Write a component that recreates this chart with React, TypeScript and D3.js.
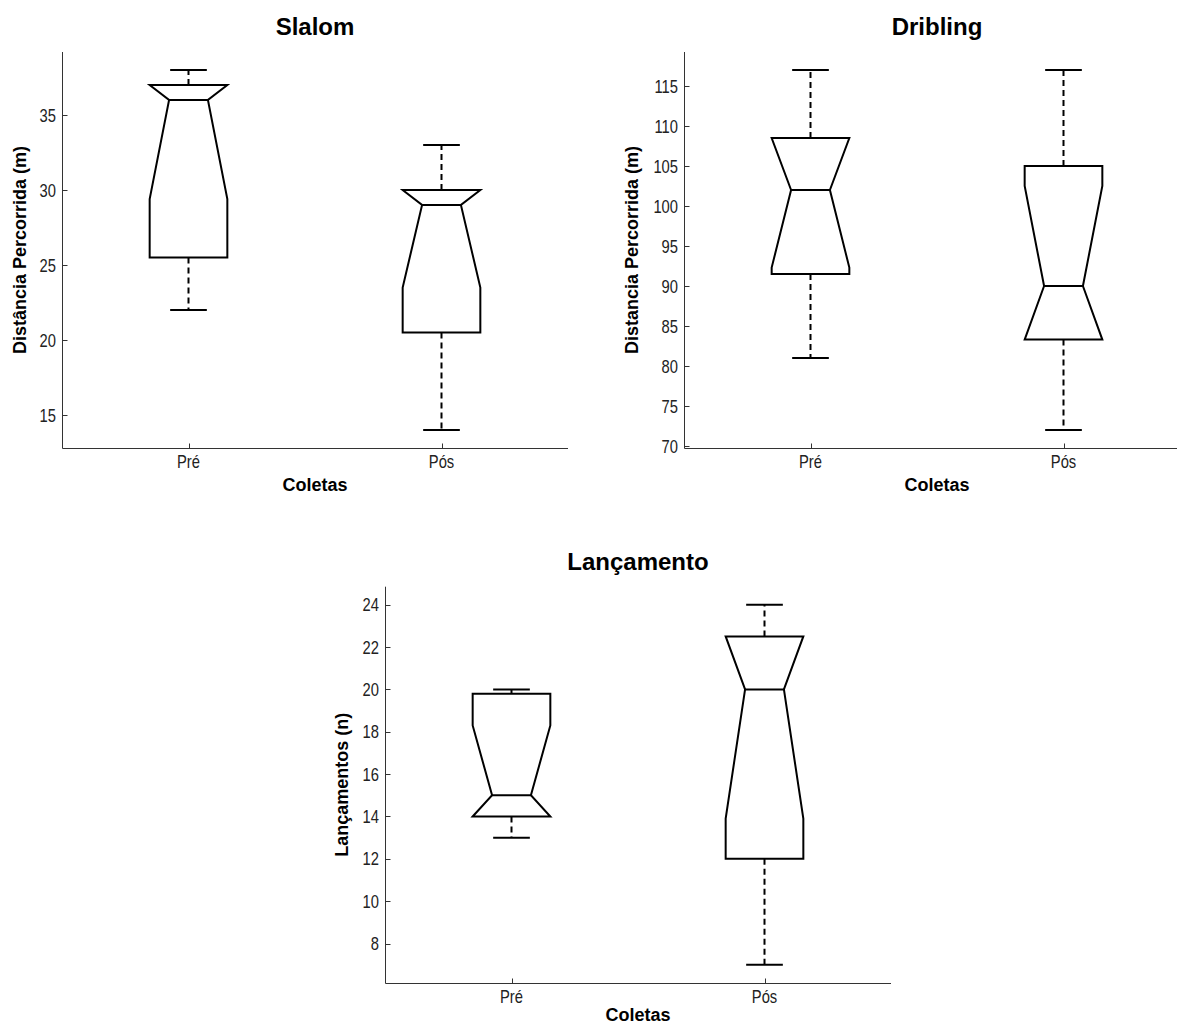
import React from "react";
import * as d3 from "d3";

const categories = ["Pré", "Pós"];

// Slalom
const slalomWhiskerLow = [22, 14];
const slalomQ1 = [25.5, 20.5];
const slalomMedian = [36, 29];
const slalomQ3 = [37, 30];
const slalomWhiskerHigh = [38, 33];
const slalomNotchLow = [29.4, 23.5];
const slalomNotchHigh = [42.6, 34.5];
const slalomTicks = [15, 20, 25, 30, 35];

// Dribling
const driblingWhiskerLow = [81, 72];
const driblingQ1 = [91.5, 83.3];
const driblingMedian = [102, 90];
const driblingQ3 = [108.5, 105];
const driblingWhiskerHigh = [117, 117];
const driblingNotchLow = [92.3, 77.5];
const driblingNotchHigh = [111.8, 102.5];
const driblingTicks = [70, 75, 80, 85, 90, 95, 100, 105, 110, 115];

// Lançamento
const lancWhiskerLow = [13, 7];
const lancQ1 = [14, 12];
const lancMedian = [15, 20];
const lancQ3 = [19.8, 22.5];
const lancWhiskerHigh = [20, 24];
const lancNotchLow = [11.7, 13.9];
const lancNotchHigh = [18.3, 26.1];
const lancTicks = [8, 10, 12, 14, 16, 18, 20, 22, 24];

const AX_W = 506;
const AX_H = 396;
const TICK_FONT = "'Liberation Sans', Arial, Helvetica, sans-serif";
const BOLD_FONT = "'Liberation Sans', Arial, Helvetica, sans-serif";
const NARROW = 0.82;

type PanelProps = {
  x0: number;
  y0: number;
  title: string;
  ylabel: string;
  ylabelX: number;
  xlabelOffset: number;
  ticks: number[];
  wlo: number[];
  q1: number[];
  med: number[];
  q3: number[];
  whi: number[];
  nlo: number[];
  nhi: number[];
};

function Panel(p: PanelProps) {
  const lo = d3.min(p.wlo) as number;
  const hi = d3.max(p.whi) as number;
  const pad = (hi - lo) * 0.05;
  const y = d3.scaleLinear().domain([lo - pad, hi + pad]).range([p.y0 + AX_H, p.y0]);
  const x = d3.scaleLinear().domain([0.5, 2.5]).range([p.x0, p.x0 + AX_W]);
  const unit = x(2) - x(1);
  const bw = 0.307 * unit;
  const cw = 0.145 * unit;
  const bottom = p.y0 + AX_H;
  const ax = Math.round(p.x0) + 0.5;
  const ay = Math.round(bottom) + 0.5;
  const stroke = 2;

  return (
    <g>
      <text
        x={p.x0 + AX_W / 2}
        y={p.y0 - 17}
        textAnchor="middle"
        fontFamily={BOLD_FONT}
        fontWeight="bold"
        fontSize={24}
        fill="#000"
      >
        {p.title}
      </text>
      <text
        transform={`translate(${p.ylabelX},${p.y0 + AX_H / 2}) rotate(-90)`}
        textAnchor="middle"
        fontFamily={BOLD_FONT}
        fontWeight="bold"
        fontSize={18}
        fill="#000"
      >
        {p.ylabel}
      </text>
      <text
        x={p.x0 + AX_W / 2}
        y={bottom + p.xlabelOffset}
        textAnchor="middle"
        fontFamily={BOLD_FONT}
        fontWeight="bold"
        fontSize={18}
        fill="#000"
      >
        Coletas
      </text>
      {/* axes */}
      <line x1={ax} x2={ax} y1={p.y0} y2={ay} stroke="#333" strokeWidth={1} />
      <line x1={ax} x2={p.x0 + AX_W} y1={ay} y2={ay} stroke="#333" strokeWidth={1} />
      {p.ticks.map((t) => {
        const ty = Math.round(y(t)) + 0.5;
        return (
          <g key={t}>
            <line x1={ax} x2={ax + 5} y1={ty} y2={ty} stroke="#333" strokeWidth={1} />
            <text
              transform={`translate(${p.x0 - 6},${y(t) + 6.5}) scale(${NARROW},1)`}
              textAnchor="end"
              fontFamily={TICK_FONT}
              fontSize={18}
              fill="#222"
            >
              {t}
            </text>
          </g>
        );
      })}
      {categories.map((c, i) => {
        const cx = Math.round(x(i + 1)) + 0.5;
        return (
          <g key={c}>
            <line x1={cx} x2={cx} y1={ay} y2={ay - 5} stroke="#333" strokeWidth={1} />
            <text
              transform={`translate(${x(i + 1)},${bottom + 20}) scale(${NARROW},1)`}
              textAnchor="middle"
              fontFamily={TICK_FONT}
              fontSize={18}
              fill="#222"
            >
              {c}
            </text>
          </g>
        );
      })}
      {/* boxes */}
      {categories.map((c, i) => {
        const cx = x(i + 1);
        const L = cx - bw / 2;
        const R = cx + bw / 2;
        const nl = cx - bw / 4;
        const nr = cx + bw / 4;
        const nLo = Math.max(p.nlo[i], p.q1[i]);
        const nHi = Math.min(p.nhi[i], p.q3[i]);
        const pts: [number, number][] = [
          [L, y(p.q1[i])],
          [L, y(nLo)],
          [nl, y(p.med[i])],
          [L, y(nHi)],
          [L, y(p.q3[i])],
          [R, y(p.q3[i])],
          [R, y(nHi)],
          [nr, y(p.med[i])],
          [R, y(nLo)],
          [R, y(p.q1[i])],
        ];
        const line = d3.line();
        const d = line(pts) + "Z";
        return (
          <g key={"b" + c}>
            <line x1={cx} x2={cx} y1={y(p.q3[i])} y2={y(p.whi[i])} stroke="#000" strokeWidth={stroke} strokeDasharray="6,4" />
            <line x1={cx} x2={cx} y1={y(p.q1[i])} y2={y(p.wlo[i])} stroke="#000" strokeWidth={stroke} strokeDasharray="6,4" />
            <line x1={cx - cw / 2} x2={cx + cw / 2} y1={y(p.whi[i])} y2={y(p.whi[i])} stroke="#000" strokeWidth={stroke} />
            <line x1={cx - cw / 2} x2={cx + cw / 2} y1={y(p.wlo[i])} y2={y(p.wlo[i])} stroke="#000" strokeWidth={stroke} />
            <path d={d} fill="#fff" stroke="#000" strokeWidth={stroke} strokeLinejoin="miter" />
            <line x1={nl} x2={nr} y1={y(p.med[i])} y2={y(p.med[i])} stroke="#000" strokeWidth={stroke} />
          </g>
        );
      })}
    </g>
  );
}

export default function App() {
  return (
    <svg
      width={1177}
      height={1026}
      viewBox="0 0 1177 1026"
      style={{ position: "absolute", left: 0, top: 0, background: "#fff", overflow: "hidden" }}
    >
      <rect x={0} y={0} width={1177} height={1026} fill="#fff" />
      <Panel
        x0={62}
        y0={52}
        title="Slalom"
        ylabel="Distância Percorrida (m)"
        ylabelX={25.5}
        xlabelOffset={43}
        ticks={slalomTicks}
        wlo={slalomWhiskerLow}
        q1={slalomQ1}
        med={slalomMedian}
        q3={slalomQ3}
        whi={slalomWhiskerHigh}
        nlo={slalomNotchLow}
        nhi={slalomNotchHigh}
      />
      <Panel
        x0={684}
        y0={52}
        title="Dribling"
        ylabel="Distancia Percorrida (m)"
        ylabelX={637.5}
        xlabelOffset={43}
        ticks={driblingTicks}
        wlo={driblingWhiskerLow}
        q1={driblingQ1}
        med={driblingMedian}
        q3={driblingQ3}
        whi={driblingWhiskerHigh}
        nlo={driblingNotchLow}
        nhi={driblingNotchHigh}
      />
      <Panel
        x0={385}
        y0={586.7}
        title="Lançamento"
        ylabel="Lançamentos (n)"
        ylabelX={348}
        xlabelOffset={38.5}
        ticks={lancTicks}
        wlo={lancWhiskerLow}
        q1={lancQ1}
        med={lancMedian}
        q3={lancQ3}
        whi={lancWhiskerHigh}
        nlo={lancNotchLow}
        nhi={lancNotchHigh}
      />
    </svg>
  );
}
